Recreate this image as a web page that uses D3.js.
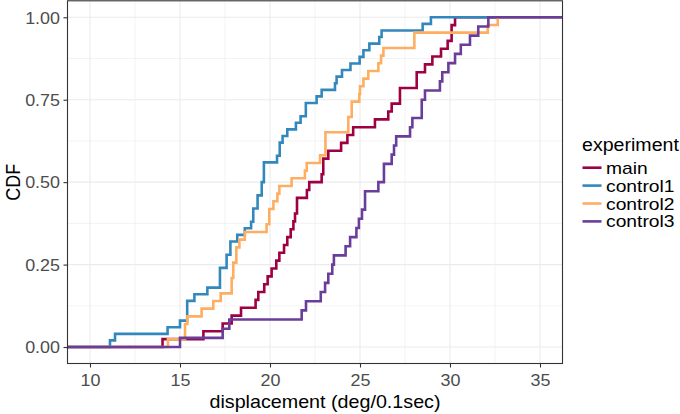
<!DOCTYPE html>
<html>
<head>
<meta charset="utf-8">
<script src="https://cdn.jsdelivr.net/npm/d3@7"></script>
<style>
body { margin: 0; background: #fff; }
svg text { font-family: "Liberation Sans", Arial, sans-serif; }
</style>
</head>
<body>
<div class="chart-wrapper"></div>
<script>

const seriesNames = ['main', 'control1', 'control2', 'control3'];
const seriesColors = ['#9E0142', '#3288BD', '#FDAE61', '#6A3D9A'];

// displacement samples
const mainValues = [14.03, 16.3, 17.37, 17.87, 18.39, 19.2, 19.35, 19.68, 19.87, 20.09, 20.35, 20.52, 20.78, 20.96, 21.15, 21.3, 21.39, 21.5, 21.5, 22.05, 22.18, 22.87, 22.96, 22.96, 23.24, 23.95, 24.3, 24.62, 25.83, 26.57, 26.76, 27.22, 27.22, 28.15, 28.15, 28.61, 29.02, 29.5, 29.87, 30.09, 30.09, 30.28];
const control1Values = [11.11, 11.39, 14.31, 15.0, 15.4, 15.4, 15.4, 15.8, 16.52, 17.22, 17.22, 17.22, 17.59, 17.59, 17.8, 17.8, 18.18, 18.6, 18.95, 19.07, 19.07, 19.31, 19.31, 19.54, 19.54, 19.66, 19.66, 19.66, 20.39, 20.54, 20.54, 20.7, 20.96, 21.44, 21.7, 21.99, 21.99, 22.59, 22.87, 23.61, 23.7, 24.0, 24.47, 24.98, 25.19, 25.52, 26.07, 26.2, 28.48, 28.94];
const control2Values = [14.33, 15.28, 15.28, 15.41, 16.2, 16.85, 17.26, 17.87, 17.87, 17.96, 17.96, 18.13, 18.13, 18.3, 18.6, 19.81, 19.96, 19.96, 20.19, 20.41, 20.52, 21.2, 21.94, 22.04, 22.78, 23.08, 23.08, 23.08, 24.35, 24.35, 24.54, 24.54, 24.96, 25.0, 25.19, 25.46, 26.02, 26.17, 26.3, 28.02, 28.02, 32.1, 32.65];
const control3Values = [15.0, 17.37, 17.74, 21.76, 22.0, 22.82, 23.06, 23.24, 23.46, 23.55, 24.2, 24.45, 24.8, 24.94, 25.11, 25.28, 25.28, 26.02, 26.33, 26.33, 26.76, 26.89, 27.01, 27.78, 27.91, 28.43, 28.43, 28.61, 29.44, 29.57, 29.91, 30.28, 30.6, 31.11, 31.57, 32.13];

const xLimits = [10, 35];
const xTicks = [10, 15, 20, 25, 30, 35];
const xMinor = [12.5, 17.5, 22.5, 27.5, 32.5];
const yTicks = [0, 0.25, 0.5, 0.75, 1];
const yMinor = [0.125, 0.375, 0.625, 0.875];

const allValues = [mainValues, control1Values, control2Values, control3Values];

let w = 680;
let h = 414;

// the reference text is a bit wider than it is tall
const textStretch = 1.12;

let panel = {left: 67.5, right: 562.5, top: 0.8, bottom: 363.5};

let xPad = (xLimits[1] - xLimits[0]) * 0.05;
let xScale = d3.scaleLinear()
.domain([xLimits[0] - xPad, xLimits[1] + xPad])
.range([panel.left, panel.right]);

let yScale = d3.scaleLinear()
.domain([-0.05, 1.05])
.range([panel.bottom, panel.top]);

let svg = d3.select('.chart-wrapper').append('svg')
.attr('width', w)
.attr('height', h);

svg.append('defs').append('clipPath')
.attr('id', 'panel-clip')
.append('rect')
.attr('x', panel.left)
.attr('y', panel.top)
.attr('width', panel.right - panel.left)
.attr('height', panel.bottom - panel.top);

function stretch(sel, k) {
	k = k || textStretch;
	sel.each(function() {
		let t = d3.select(this);
		let tx = +t.attr('x') || 0;
		let ty = +t.attr('y') || 0;
		t.attr('x', 0).attr('y', 0)
		.attr('transform', 'translate(' + tx + ',' + ty + ') scale(' + k + ',1)');
	});
}

// grid
let grid = svg.append('g').attr('class', 'grid');

grid.selectAll('.x-minor')
.data(xMinor)
.enter().append('line')
.attr('x1', d => xScale(d)).attr('x2', d => xScale(d))
.attr('y1', panel.top).attr('y2', panel.bottom)
.attr('stroke', '#EBEBEB').attr('stroke-width', 0.6);

grid.selectAll('.y-minor')
.data(yMinor)
.enter().append('line')
.attr('y1', d => yScale(d)).attr('y2', d => yScale(d))
.attr('x1', panel.left).attr('x2', panel.right)
.attr('stroke', '#EBEBEB').attr('stroke-width', 0.6);

grid.selectAll('.x-major')
.data(xTicks)
.enter().append('line')
.attr('x1', d => xScale(d)).attr('x2', d => xScale(d))
.attr('y1', panel.top).attr('y2', panel.bottom)
.attr('stroke', '#EBEBEB').attr('stroke-width', 1.1);

grid.selectAll('.y-major')
.data(yTicks)
.enter().append('line')
.attr('y1', d => yScale(d)).attr('y2', d => yScale(d))
.attr('x1', panel.left).attr('x2', panel.right)
.attr('stroke', '#EBEBEB').attr('stroke-width', 1.1);

// ecdf steps
function ecdf(values) {
	let sorted = values.slice().sort(d3.ascending);
	let n = sorted.length;
	let pts = [{x: xScale.domain()[0], y: 0}];
	Array.from(new Set(sorted)).forEach(v => {
		pts.push({x: v, y: d3.bisectRight(sorted, v) / n});
	});
	pts.push({x: xScale.domain()[1], y: 1});
	return pts;
}

let line = d3.line()
.x(d => xScale(d.x))
.y(d => yScale(d.y))
.curve(d3.curveStepAfter);

svg.append('g')
.attr('clip-path', 'url(#panel-clip)')
.selectAll('.ecdf-line')
.data(allValues)
.enter().append('path')
.attr('class', 'ecdf-line')
.attr('d', d => line(ecdf(d)))
.attr('fill', 'none')
.attr('stroke', (d, i) => seriesColors[i])
.attr('stroke-width', 2.6);

// axes
let xaxis = svg.append('g')
.attr('class', 'x axis')
.attr('transform', 'translate(0,' + panel.bottom + ')')
.call(
	d3.axisBottom(xScale)
	.tickValues(xTicks)
	.tickSize(4)
	.tickPadding(7)
	.tickFormat(d3.format('d'))
	);

let yaxis = svg.append('g')
.attr('class', 'y axis')
.attr('transform', 'translate(' + panel.left + ',0)')
.call(
	d3.axisLeft(yScale)
	.tickValues(yTicks)
	.tickSize(4)
	.tickPadding(3.5)
	.tickFormat(d3.format('.2f'))
	);

svg.selectAll('.axis .domain').remove();
svg.selectAll('.axis line').attr('stroke', '#333333').attr('stroke-width', 1.1);
svg.selectAll('.axis text')
.attr('fill', '#4D4D4D')
.style('font-size', '16px');
svg.selectAll('.y.axis text').attr('dy', '0.36em');
stretch(svg.selectAll('.axis text'));

svg.append('rect')
.attr('x', panel.left)
.attr('y', panel.top)
.attr('width', panel.right - panel.left)
.attr('height', panel.bottom - panel.top)
.attr('fill', 'none')
.attr('stroke', '#333333')
.attr('stroke-width', 1.1);

svg.append('text')
.text('displacement (deg/0.1sec)')
.attr('x', 325)
.attr('y', 408)
.style('text-anchor', 'middle')
.style('font-size', '17.6px')
.attr('fill', '#000')
.call(stretch);

svg.append('text')
.text('CDF')
.attr('transform', 'translate(19.5,' + (panel.top + panel.bottom) / 2 + ') rotate(-90) scale(1,' + textStretch + ')')
.style('text-anchor', 'middle')
.style('font-size', '18px')
.attr('fill', '#000');

// legend
let legend = svg.append('g').attr('class', 'legend');

legend.append('text')
.text('experiment')
.attr('x', 582)
.attr('y', 151)
.style('font-size', '17.5px')
.attr('fill', '#000')
.call(stretch);

let keys = legend.selectAll('.key')
.data(seriesNames)
.enter().append('g')
.attr('class', 'key')
.attr('transform', (d, i) => 'translate(0,' + (167.7 + i * 17.9) + ')');

keys.append('line')
.attr('x1', 582.5).attr('x2', 601.5)
.attr('y1', 0).attr('y2', 0)
.attr('stroke', (d, i) => seriesColors[i])
.attr('stroke-width', 2.6);

keys.append('text')
.text(d => d)
.attr('x', 606)
.attr('y', 6)
.style('font-size', '15.8px')
.attr('fill', '#000')
.call(stretch, 1.22);

</script>
</body>
</html>
